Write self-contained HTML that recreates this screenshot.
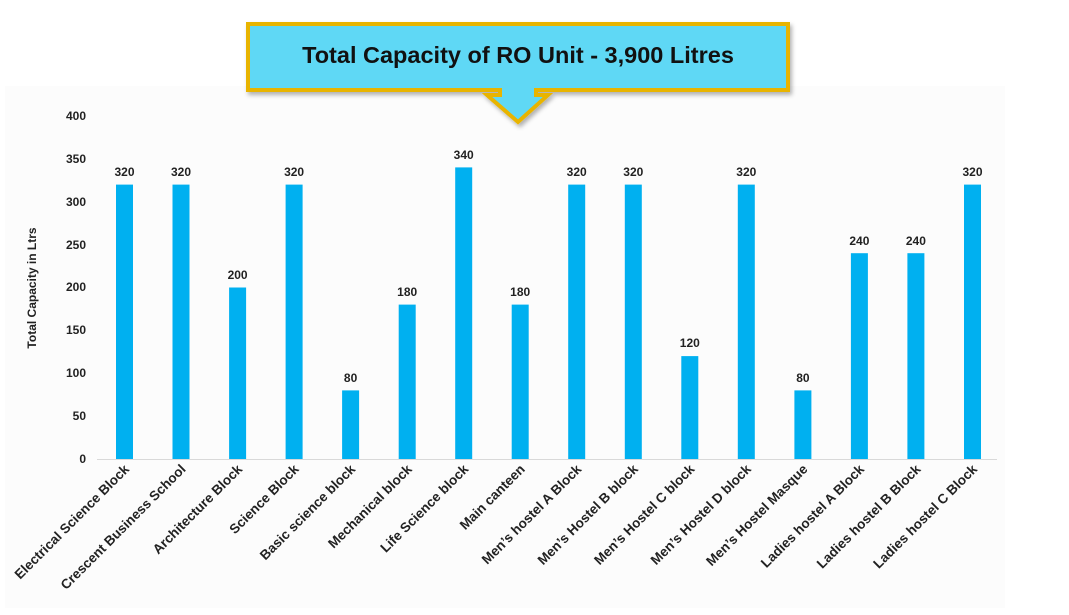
<!DOCTYPE html>
<html><head><meta charset="utf-8"><style>
body{margin:0;background:#fff;}
svg{display:block;font-family:"Liberation Sans",Arial,sans-serif;font-weight:bold;}
</style></head><body>
<svg width="1069" height="615" viewBox="0 0 1069 615">
<rect x="0" y="0" width="1069" height="615" fill="#fff"/>
<rect x="5" y="86" width="1000" height="522" fill="#fcfcfc"/>
<defs>
<filter id="sh" x="-5%" y="-20%" width="110%" height="150%"><feDropShadow dx="2" dy="3" stdDeviation="2" flood-color="#000" flood-opacity="0.3"/></filter>
</defs>
<g filter="url(#sh)">
<path d="M248,24 H788 V90 H536 V95 H548 L518,122 L487,95 H500 V90 H248 Z" fill="#5fd8f5" stroke="#e8b400" stroke-width="4" stroke-linejoin="miter"/>
</g>
<text x="518" y="63" font-size="23.5" text-anchor="middle" fill="#111">Total Capacity of RO Unit - 3,900 Litres</text>
<line x1="97" y1="459.5" x2="997" y2="459.5" stroke="#d9d9d9" stroke-width="1"/>
<g font-size="12" fill="#222" text-anchor="end">
<text x="86" y="463">0</text>
<text x="86" y="420">50</text>
<text x="86" y="377">100</text>
<text x="86" y="334">150</text>
<text x="86" y="291">200</text>
<text x="86" y="249">250</text>
<text x="86" y="206">300</text>
<text x="86" y="163">350</text>
<text x="86" y="120">400</text>
</g>
<text transform="translate(36,288) rotate(-90)" font-size="12" text-anchor="middle" fill="#222">Total Capacity in Ltrs</text>
<g fill="#00b0f0">
<rect x="116" y="184.6" width="17" height="274.4"/>
<rect x="172.5" y="184.6" width="17" height="274.4"/>
<rect x="229.1" y="287.5" width="17" height="171.5"/>
<rect x="285.6" y="184.6" width="17" height="274.4"/>
<rect x="342.1" y="390.4" width="17" height="68.6"/>
<rect x="398.7" y="304.6" width="17" height="154.4"/>
<rect x="455.2" y="167.4" width="17" height="291.6"/>
<rect x="511.7" y="304.6" width="17" height="154.4"/>
<rect x="568.2" y="184.6" width="17" height="274.4"/>
<rect x="624.8" y="184.6" width="17" height="274.4"/>
<rect x="681.3" y="356.1" width="17" height="102.9"/>
<rect x="737.8" y="184.6" width="17" height="274.4"/>
<rect x="794.4" y="390.4" width="17" height="68.6"/>
<rect x="850.9" y="253.2" width="17" height="205.8"/>
<rect x="907.4" y="253.2" width="17" height="205.8"/>
<rect x="964" y="184.6" width="17" height="274.4"/>
</g>
<g font-size="12" fill="#222" text-anchor="middle">
<text x="124.5" y="176">320</text>
<text x="181" y="176">320</text>
<text x="237.6" y="279">200</text>
<text x="294.1" y="176">320</text>
<text x="350.6" y="382">80</text>
<text x="407.2" y="296">180</text>
<text x="463.7" y="159">340</text>
<text x="520.2" y="296">180</text>
<text x="576.7" y="176">320</text>
<text x="633.3" y="176">320</text>
<text x="689.8" y="347">120</text>
<text x="746.3" y="176">320</text>
<text x="802.9" y="382">80</text>
<text x="859.4" y="245">240</text>
<text x="915.9" y="245">240</text>
<text x="972.5" y="176">320</text>
</g>
<g font-size="13.5" fill="#222" text-anchor="end">
<text transform="translate(130,470) rotate(-45)">Electrical Science Block</text>
<text transform="translate(186.5,470) rotate(-45)">Crescent Business School</text>
<text transform="translate(243.1,470) rotate(-45)">Architecture Block</text>
<text transform="translate(299.6,470) rotate(-45)">Science Block</text>
<text transform="translate(356.1,470) rotate(-45)">Basic science block</text>
<text transform="translate(412.7,470) rotate(-45)">Mechanical block</text>
<text transform="translate(469.2,470) rotate(-45)">Life Science block</text>
<text transform="translate(525.7,470) rotate(-45)">Main canteen</text>
<text transform="translate(582.2,470) rotate(-45)">Men’s hostel A Block</text>
<text transform="translate(638.8,470) rotate(-45)">Men’s Hostel B block</text>
<text transform="translate(695.3,470) rotate(-45)">Men’s Hostel C block</text>
<text transform="translate(751.8,470) rotate(-45)">Men’s Hostel D block</text>
<text transform="translate(808.4,470) rotate(-45)">Men’s Hostel Masque</text>
<text transform="translate(864.9,470) rotate(-45)">Ladies hostel A Block</text>
<text transform="translate(921.4,470) rotate(-45)">Ladies hostel B Block</text>
<text transform="translate(978,470) rotate(-45)">Ladies hostel C Block</text>
</g>
</svg>
</body></html>
